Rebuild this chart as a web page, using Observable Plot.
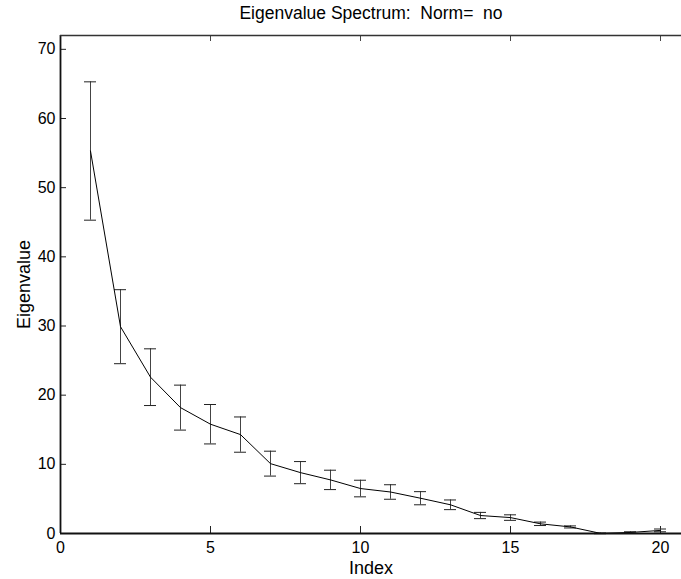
<!DOCTYPE html>
<html>
<head>
<meta charset="utf-8">
<script src="https://cdn.jsdelivr.net/npm/d3@7"></script>
<script src="https://cdn.jsdelivr.net/npm/@observablehq/plot@0.6"></script>
<style>
  html, body { margin: 0; padding: 0; background: #fff; }
</style>
</head>
<body>
<div id="chart"></div>
<script>
const indices = [1, 2, 3, 4, 5, 6, 7, 8, 9, 10, 11, 12, 13, 14, 15, 16, 17, 18, 19, 20];
const eigenvalues = [55.3, 29.9, 22.6, 18.2, 15.8, 14.3, 10.1, 8.8, 7.75, 6.5, 6.0, 5.1, 4.15, 2.6, 2.3, 1.4, 0.95, 0.02, 0.15, 0.45];
const errors = [10.0, 5.35, 4.1, 3.25, 2.85, 2.55, 1.8, 1.6, 1.4, 1.2, 1.05, 0.95, 0.7, 0.45, 0.4, 0.25, 0.15, 0.05, 0.1, 0.2];
const xTicks = [0, 5, 10, 15, 20];
const yTicks = [0, 10, 20, 30, 40, 50, 60, 70];
const xDomain = [0, 20.7];
const yDomain = [0, 72];
const titleText = "Eigenvalue Spectrum:  Norm=  no";
const xLabel = "Index";
const yLabel = "Eigenvalue";

const data = indices.map((x, i) => ({x, y: eigenvalues[i], lo: eigenvalues[i] - errors[i], hi: eigenvalues[i] + errors[i]}));

const W = 681, H = 579;
const mL = 60, mR = 0, mT = 35, mB = 46;
const frameW = W - mL - mR, frameH = H - mT - mB;
const capHalf = 6 / 30; // cap half-width in index units (30 px per unit)

const chart = Plot.plot({
  width: W,
  height: H,
  marginLeft: mL,
  marginRight: mR,
  marginTop: mT,
  marginBottom: mB,
  style: {fontFamily: "'Liberation Sans', Arial, Helvetica, sans-serif", fontSize: "16px", background: "#fff", color: "#000"},
  x: {domain: xDomain, label: null},
  y: {domain: yDomain, label: null},
  marks: [
    // tick labels (tick marks are drawn inward below)
    Plot.axisX({ticks: xTicks, tickSize: 0, tickPadding: 8, label: null, fontSize: 16}),
    Plot.axisY({ticks: yTicks, tickSize: 0, tickPadding: 5, label: null, fontSize: 16}),
    // inward ticks
    Plot.tickX(xTicks, {x: d => d, insetTop: frameH - 7, stroke: "#222"}),
    Plot.tickX(xTicks, {x: d => d, insetBottom: frameH - 6, stroke: "#444"}),
    Plot.tickY(yTicks, {y: d => d, insetRight: frameW - 6, stroke: "#222"}),
    // error bars
    Plot.ruleX(data, {x: "x", y1: "lo", y2: "hi", stroke: "#444", strokeWidth: 1}),
    Plot.ruleY(data, {y: "hi", x1: d => d.x - capHalf, x2: d => d.x + capHalf, stroke: "#222", strokeWidth: 1}),
    Plot.ruleY(data, {y: "lo", x1: d => d.x - capHalf, x2: d => d.x + capHalf, stroke: "#222", strokeWidth: 1}),
    // main line
    Plot.line(data, {x: "x", y: "y", stroke: "#000", strokeWidth: 1}),
    // box: left, bottom, top (right edge falls off the canvas)
    Plot.ruleX([xDomain[0]], {x: d => d, stroke: "#111", strokeWidth: 1.8}),
    Plot.ruleY([yDomain[0]], {y: d => d, stroke: "#111", strokeWidth: 1.8}),
    Plot.ruleY([yDomain[1]], {y: d => d, stroke: "#333", strokeWidth: 1.6}),
    // title & axis labels
    Plot.text([titleText], {text: d => d, frameAnchor: "top", textAnchor: "middle", lineAnchor: "middle", dy: -22, fontSize: 17.5}),
    Plot.text([xLabel], {text: d => d, frameAnchor: "bottom", textAnchor: "middle", lineAnchor: "middle", dy: 35, fontSize: 18}),
    Plot.text([yLabel], {text: d => d, frameAnchor: "left", textAnchor: "middle", lineAnchor: "middle", rotate: -90, dx: -36, fontSize: 18})
  ]
});
document.getElementById("chart").appendChild(chart);
</script>
</body>
</html>
